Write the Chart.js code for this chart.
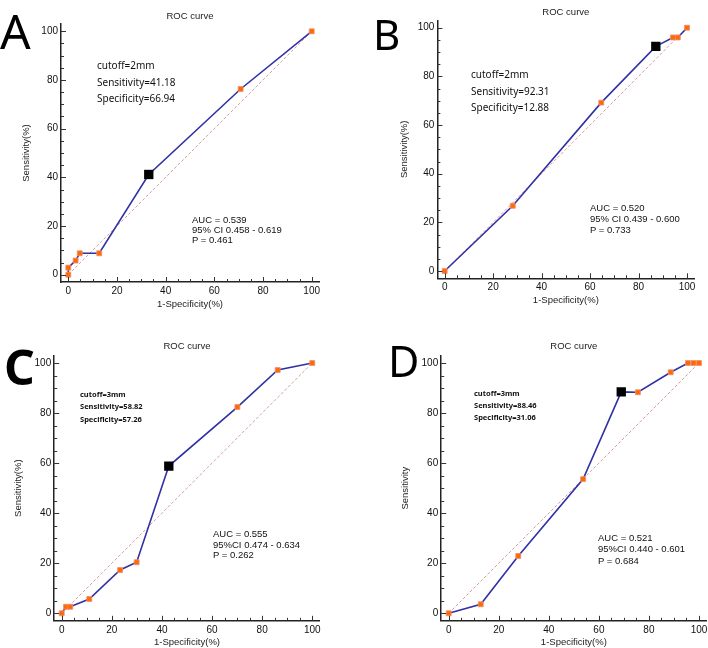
<!DOCTYPE html>
<html>
<head>
<meta charset="utf-8">
<script src="https://cdn.jsdelivr.net/npm/chart.js@4/dist/chart.umd.min.js"></script>
<style>
  html, body { margin: 0; padding: 0; background: #fff; }
  #page { position: relative; width: 708px; height: 648px; overflow: hidden; background: #fff; }
  canvas { position: absolute; }
  .letter { position: absolute; font-family: "Noto Sans", sans-serif; line-height: 1; color: #000; }
  .note { position: absolute; font-family: "Noto Sans", sans-serif; font-size: 10px; line-height: 16.5px; color: #111; white-space: nowrap; }
  .note.small { font-size: 7.5px; font-weight: bold; line-height: 12.3px; }
  .auc { position: absolute; font-family: "Liberation Sans", Arial, sans-serif; font-size: 9.5px; color: #111; white-space: nowrap; }
</style>
</head>
<body>
<div id="page">
  <canvas id="chartA" width="360" height="318" style="left:0px;top:0px"></canvas>
  <canvas id="chartB" width="380" height="318" style="left:354px;top:0px"></canvas>
  <canvas id="chartC" width="360" height="324" style="left:0px;top:324px"></canvas>
  <canvas id="chartD" width="380" height="324" style="left:354px;top:324px"></canvas>

  <div class="letter" style="left:0px;top:7px;font-size:48px">A</div>
  <div class="letter" style="left:373px;top:13px;font-size:42px">B</div>
  <div class="letter" style="left:4px;top:343px;font-size:48px;font-weight:bold">C</div>
  <div class="letter" style="left:388px;top:339px;font-size:43px">D</div>

  <div class="note" style="left:97px;top:57px">cutoff=2mm<br>Sensitivity=41.18<br>Specificity=66.94</div>
  <div class="auc" style="left:192px;top:215px;line-height:10px">AUC = 0.539<br>95% CI 0.458 - 0.619<br>P = 0.461</div>

  <div class="note" style="left:471px;top:66px">cutoff=2mm<br>Sensitivity=92.31<br>Specificity=12.88</div>
  <div class="auc" style="left:590px;top:201.5px;line-height:11px">AUC = 0.520<br>95% CI 0.439 - 0.600<br>P = 0.733</div>

  <div class="note small" style="left:80px;top:388px">cutoff=3mm<br>Sensitivity=58.82<br>Specificity=57.26</div>
  <div class="auc" style="left:213px;top:529px;line-height:10.7px">AUC = 0.555<br>95%CI 0.474 - 0.634<br>P = 0.262</div>

  <div class="note small" style="left:474px;top:386.5px;line-height:12px">cutoff=3mm<br>Sensitivity=88.46<br>Specificity=31.06</div>
  <div class="auc" style="left:598px;top:532px;line-height:11.3px">AUC = 0.521<br>95%CI 0.440 - 0.601<br>P = 0.684</div>
</div>

<script>
// ROC points: 1-specificity (%) and sensitivity (%)
const fprA = [0, 0, 3, 4.7, 12.7, 33.06, 70.8, 100];
const tprA = [0, 2.9, 5.8, 8.8, 8.8, 41.18, 76.3, 100];
const cutoffA = [33.06, 41.18];

const fprB = [0, 28.1, 64.6, 87.12, 94.2, 96.2, 100];
const tprB = [0, 26.8, 69.2, 92.31, 96, 96, 100];
const cutoffB = [87.12, 92.31];

const fprC = [0, 1.7, 3.4, 11, 23.3, 29.9, 42.74, 70.1, 86.2, 100];
const tprC = [0, 2.6, 2.6, 5.7, 17.3, 20.4, 58.82, 82.4, 97.2, 100];
const cutoffC = [42.74, 58.82];

const fprD = [0, 12.8, 27.8, 53.7, 68.94, 75.6, 88.7, 95.6, 97.8, 100];
const tprD = [0, 3.6, 22.9, 53.6, 88.46, 88.3, 96.3, 100, 100, 100];
const cutoffD = [68.94, 88.46];

// chance line and axis ticks
const refLine = [0, 100];
const majorTicks = [0, 20, 40, 60, 80, 100];
const minorTicks = [0, 5, 10, 15, 20, 25, 30, 35, 40, 45, 50, 55, 60, 65, 70, 75, 80, 85, 90, 95, 100];

const tickFont = { family: "Liberation Sans", size: 10 };
const titleFont = { family: "Liberation Sans", size: 9.5, weight: "normal" };

// tick marks point into the plot, long at labelled values
const innerTicks = {
  id: "innerTicks",
  afterDraw(chart) {
    const { ctx, chartArea: a, scales: { x, y } } = chart;
    ctx.save();
    ctx.strokeStyle = "#333";
    ctx.lineWidth = 1;
    minorTicks.forEach(v => {
      const len = v % 20 === 0 ? 5 : 3;
      const px = Math.round(x.getPixelForValue(v)) + 0.5;
      const py = Math.round(y.getPixelForValue(v)) + 0.5;
      ctx.beginPath();
      ctx.moveTo(px, a.bottom);
      ctx.lineTo(px, a.bottom - len);
      ctx.moveTo(a.left, py);
      ctx.lineTo(a.left + len, py);
      ctx.stroke();
    });
    ctx.restore();
  }
};

function makeRoc(id, fpr, tpr, cutoff, yLabel, box) {
  const curve = fpr.map((v, i) => ({ x: v, y: tpr[i] }));
  return new Chart(document.getElementById(id), {
    type: "scatter",
    data: {
      datasets: [
        {
          data: [{ x: cutoff[0], y: cutoff[1] }],
          pointStyle: "rect",
          pointRadius: 6.6,
          pointBackgroundColor: "#000",
          pointBorderColor: "#000",
          pointBorderWidth: 0
        },
        {
          data: curve,
          showLine: true,
          borderColor: "#3131a6",
          borderWidth: 1.6,
          pointStyle: "rect",
          pointRadius: 3.5,
          pointBackgroundColor: "#ff6a00",
          pointBorderColor: "#ee8f7a",
          pointBorderWidth: 0.8
        },
        {
          data: refLine.map(v => ({ x: v, y: v })),
          showLine: true,
          borderColor: "rgba(210,140,140,0.85)",
          borderWidth: 1,
          borderDash: [3, 2],
          pointRadius: 0
        }
      ]
    },
    options: {
      responsive: false,
      animation: false,
      devicePixelRatio: 1,
      layout: { padding: { left: 0, top: 0, right: box.padRight, bottom: 0 } },
      plugins: {
        legend: { display: false },
        tooltip: { enabled: false },
        title: {
          display: true,
          text: "ROC curve",
          fullSize: false,
          color: "#222",
          font: titleFont,
          padding: { top: box.titleTop, bottom: box.titleBottom }
        }
      },
      scales: {
        x: {
          type: "linear",
          min: -3,
          max: 103,
          afterBuildTicks: s => { s.ticks = majorTicks.map(v => ({ value: v })); },
          afterFit: s => { s.height = box.xH; },
          grid: { display: false, drawTicks: false },
          border: { display: true, color: "#222", width: 1.5 },
          ticks: { color: "#111", font: tickFont, padding: 3, maxRotation: 0, autoSkip: false },
          title: { display: true, text: "1-Specificity(%)", color: "#222", font: titleFont, padding: { top: 0, bottom: box.xTitlePad } }
        },
        y: {
          type: "linear",
          min: -3,
          max: 103,
          afterBuildTicks: s => { s.ticks = majorTicks.map(v => ({ value: v })); },
          afterFit: s => { s.width = box.yW; },
          grid: { display: false, drawTicks: false },
          border: { display: true, color: "#222", width: 1.5 },
          ticks: { color: "#111", font: tickFont, padding: 3, autoSkip: false },
          title: { display: true, text: yLabel, color: "#222", font: titleFont, padding: { top: box.yTitlePad, bottom: 0 } }
        }
      }
    },
    plugins: [innerTicks]
  });
}

makeRoc("chartA", fprA, tprA, cutoffA, "Sensitivity(%)",
  { padRight: 41, titleTop: 10.3, titleBottom: 2.3, xH: 36, xTitlePad: 8.3, yW: 61, yTitlePad: 21 });
makeRoc("chartB", fprB, tprB, cutoffB, "Sensitivity(%)",
  { padRight: 39.7, titleTop: 7, titleBottom: 2, xH: 39.7, xTitlePad: 12.3, yW: 83.4, yTitlePad: 44.3 });
makeRoc("chartC", fprC, tprC, cutoffC, "Sensitivity(%)",
  { padRight: 40.2, titleTop: 17, titleBottom: 3.1, xH: 27.2, xTitlePad: 0, yW: 54.2, yTitlePad: 12.3 });
makeRoc("chartD", fprD, tprD, cutoffD, "Sensitivity",
  { padRight: 27.5, titleTop: 17, titleBottom: 3.1, xH: 27.2, xTitlePad: 0, yW: 87.2, yTitlePad: 46 });
</script>
</body>
</html>
